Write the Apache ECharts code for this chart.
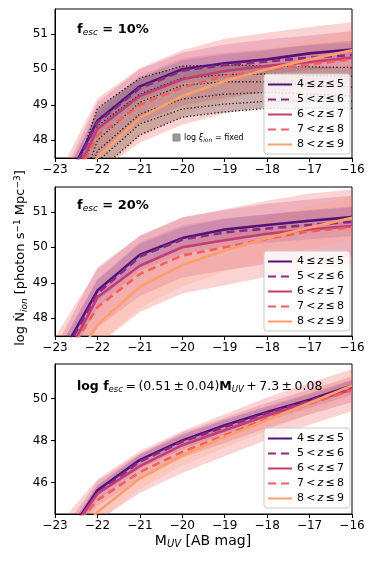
<!DOCTYPE html>
<html>
<head>
<meta charset="utf-8">
<script src="https://cdn.jsdelivr.net/npm/echarts@6/dist/echarts.min.js"></script>
<style>
html, body { margin: 0; padding: 0; background: #fff; }
#chart { width: 374px; height: 561px; }
</style>
</head>
<body>
<div id="chart"></div>
<script>
// M_UV grid of the model
const mags = [-23, -22, -21, -20, -19, -18, -17, -16];
const zBins = ['4 ≤ z ≤ 5', '5 < z ≤ 6', '6 < z ≤ 7', '7 < z ≤ 8', '8 < z ≤ 9'];
const zColors = ['#51127c', '#8c2981', '#c43c75', '#f1605d', '#fd9f6c'];
const zDashed = [false, true, false, true, false];
const bandAlpha = [0.13, 0.14, 0.22, 0.28, 0.22];

// panel 1 : fesc = 10%
const f10_z45 = [46.2, 48.55, 49.52, 50.0, 50.17, 50.28, 50.45, 50.56];
const f10_z56 = [46.1, 48.5, 49.47, 49.96, 50.12, 50.22, 50.33, 50.4];
const f10_z67 = [45.8, 48.32, 49.25, 49.72, 49.95, 50.1, 50.2, 50.33];
const f10_z78 = [45.8, 48.13, 48.99, 49.49, 49.81, 49.98, 50.14, 50.28];
const f10_z89 = [45.0, 47.53, 48.63, 49.25, 49.67, 50.0, 50.28, 50.54];
const f10_err = [0.25, 0.35, 0.75, 1.05, 0.55];
// log xi_ion fixed (dotted curves)
const fix_1 = [45.4, 48.9, 49.75, 50.09, 50.12, 50.1, 50.07, 50.05];
const fix_2 = [45.0, 48.4, 49.3, 49.75, 49.85, 49.87, 49.83, 49.8];
const fix_3 = [44.6, 48.0, 49.07, 49.55, 49.65, 49.65, 49.55, 49.5];
const fix_4 = [44.3, 47.7, 48.74, 49.16, 49.3, 49.35, 49.3, 49.25];
const fix_5 = [44.0, 47.4, 48.46, 48.88, 49.02, 49.1, 49.1, 49.1];
const fix_6 = [43.7, 47.1, 48.15, 48.65, 48.8, 48.9, 48.9, 48.9];

// panel 2 : fesc = 20%
const f20_z45 = [46.65, 48.78, 49.79, 50.26, 50.5, 50.63, 50.75, 50.85];
const f20_z56 = [46.55, 48.7, 49.74, 50.22, 50.42, 50.53, 50.63, 50.72];
const f20_z67 = [46.3, 48.59, 49.48, 50.0, 50.2, 50.38, 50.5, 50.6];
const f20_z78 = [46.4, 48.31, 49.25, 49.77, 50.0, 50.24, 50.45, 50.56];
const f20_z89 = [45.9, 47.82, 48.89, 49.5, 49.91, 50.26, 50.56, 50.83];
const f20_err = [0.3, 0.4, 0.85, 1.07, 0.6];

// panel 3 : fesc(M_UV) relation
const fm_z45 = [42.6, 45.63, 47.08, 48.01, 48.73, 49.36, 49.95, 50.63];
const fm_z56 = [42.5, 45.5, 47.0, 47.95, 48.65, 49.3, 49.9, 50.55];
const fm_z67 = [42.6, 45.47, 46.78, 47.78, 48.49, 49.2, 49.84, 50.43];
const fm_z78 = [42.8, 45.16, 46.5, 47.46, 48.25, 49.05, 49.76, 50.4];
const fm_z89 = [42.2, 44.6, 46.19, 47.3, 48.17, 48.97, 49.79, 50.63];
const fm_err = [0.25, 0.35, 0.6, 1.0, 0.5];

const yTicks12 = [48, 49, 50, 51];
const yTicks3 = [46, 48, 50];

const FONT = 'DejaVu Sans';
const chart = echarts.init(document.getElementById('chart'));

const pts = arr => mags.map((m, i) => [m, arr[i]]);

// Sutherland-Hodgman against one horizontal edge
function clipEdge(poly, keep, yb) {
  const out = [];
  const cross = (a, b) => [a[0] + (b[0] - a[0]) * (yb - a[1]) / (b[1] - a[1]), yb];
  for (let i = 0; i < poly.length; i++) {
    const cur = poly[i], prev = poly[(i + poly.length - 1) % poly.length];
    if (keep(cur)) {
      if (!keep(prev)) out.push(cross(prev, cur));
      out.push(cur);
    } else if (keep(prev)) {
      out.push(cross(prev, cur));
    }
  }
  return out;
}

// filled polygon between lo and hi, built in data space
function band(lo, hi, color, opacity, gi) {
  return {
    type: 'custom', xAxisIndex: gi, yAxisIndex: gi, silent: true, z: 2,
    data: mags.map((m, i) => [m, lo[i], hi[i]]),
    encode: { x: 0, y: [1, 2] },
    renderItem: (params, api) => {
      if (params.dataIndex !== 0) return;
      const cs = params.coordSys;
      const top = mags.map((m, i) => api.coord([m, hi[i]]));
      const bot = mags.map((m, i) => api.coord([m, lo[i]])).reverse();
      let poly = top.concat(bot);
      poly = clipEdge(poly, p => p[1] <= cs.y + cs.height, cs.y + cs.height);
      poly = clipEdge(poly, p => p[1] >= cs.y, cs.y);
      return {
        type: 'polygon',
        shape: { points: poly },
        style: { fill: color, opacity }
      };
    }
  };
}

function panel(lines, err, gi) {
  // widest bands first
  return [3, 2, 4, 1, 0].map(k =>
    band(lines[k].map(v => v - err[k]), lines[k].map(v => v + err[k]), zColors[k], bandAlpha[k], gi));
}

function curves(lines, gi) {
  return lines.map((arr, k) => ({
    name: zBins[k], type: 'line', xAxisIndex: gi, yAxisIndex: gi, data: pts(arr),
    symbol: 'none', z: 5,
    itemStyle: { color: zColors[k] },
    lineStyle: { color: zColors[k], width: 2.6, type: zDashed[k] ? [8, 5] : 'solid' }
  }));
}

const p1 = [f10_z45, f10_z56, f10_z67, f10_z78, f10_z89];
const p2 = [f20_z45, f20_z56, f20_z67, f20_z78, f20_z89];
const p3 = [fm_z45, fm_z56, fm_z67, fm_z78, fm_z89];

const series = [];
series.push(...panel(p1, f10_err, 0));
series.push(band(fix_6, fix_1, '#4a4a4a', 0.26, 0));
[fix_1, fix_2, fix_3, fix_4, fix_5, fix_6].forEach(arr => {
  series.push({ type: 'line', xAxisIndex: 0, yAxisIndex: 0, data: pts(arr), symbol: 'none', silent: true,
    z: 4, lineStyle: { color: '#111', width: 1.3, type: [1.3, 2.2] } });
});
series.push(...curves(p1, 0));
series.push(...panel(p2, f20_err, 1));
series.push(...curves(p2, 1));
series.push(...panel(p3, fm_err, 2));
series.push(...curves(p3, 2));

const grids = [
  { left: 55, top: 9, width: 297, height: 149 },
  { left: 55, top: 187, width: 297, height: 149 },
  { left: 55, top: 364, width: 297, height: 150 }
].map(g => Object.assign(g, { show: true, borderColor: '#000', borderWidth: 1, backgroundColor: 'transparent' }));

const axisText = { color: '#000', fontFamily: FONT, fontSize: 12 };

const xAxes = [0, 1, 2].map(gi => ({
  type: 'value', gridIndex: gi, min: -23, max: -16, interval: 1,
  axisLine: { show: true, lineStyle: { color: '#000', width: 1 } },
  axisTick: { show: true, length: 4, lineStyle: { color: '#000' } },
  splitLine: { show: false },
  axisLabel: Object.assign({ margin: 6, formatter: v => (v < 0 ? '\u2212' + Math.abs(v) : String(v)) }, axisText)
}));

const yAxes = [
  { min: 47.5, max: 51.7, ticks: yTicks12 },
  { min: 47.5, max: 51.7, ticks: yTicks12 },
  { min: 44.5, max: 51.65, ticks: yTicks3 }
].map((a, gi) => ({
  type: 'value', gridIndex: gi, min: a.min, max: a.max,
  axisLine: { show: true, lineStyle: { color: '#000', width: 1 } },
  axisTick: { show: true, length: 4, customValues: a.ticks, lineStyle: { color: '#000' } },
  splitLine: { show: false },
  axisLabel: Object.assign({ margin: 7, customValues: a.ticks }, axisText)
}));

const legendRich = {
  a: { fontFamily: FONT, fontSize: 11, color: '#000' },
  i: { fontFamily: FONT, fontSize: 11, fontStyle: 'italic', color: '#000' }
};
const legends = [74, 251, 428].map(top => ({
  data: zBins, orient: 'vertical', left: 264, top, z: 20,
  itemWidth: 24, itemHeight: 10, itemGap: 2,
  padding: [4, 6, 3, 3],
  backgroundColor: 'rgba(255,255,255,0.82)', borderColor: '#ccc', borderWidth: 1, borderRadius: 3,
  selectedMode: false,
  itemStyle: { opacity: 0 },
  textStyle: { lineHeight: 13, rich: legendRich },
  formatter: n => {
    const parts = n.split(' ');
    return '{a|' + parts[0] + '\u2009' + parts[1] + '\u2009}{i|z}{a|\u2009' + parts[3] + '\u2009' + parts[4] + '}';
  }
}));

const annRich = {
  b: { fontFamily: FONT, fontSize: 13, fontWeight: 'bold', color: '#000' },
  s: { fontFamily: FONT, fontSize: 9, fontStyle: 'italic', color: '#000', padding: [6, 0, 0, 0] }
};
const fitRich = {
  b: { fontFamily: FONT, fontSize: 12.5, fontWeight: 'bold', color: '#000' },
  n: { fontFamily: FONT, fontSize: 12.5, color: '#000' },
  s: { fontFamily: FONT, fontSize: 8.5, fontStyle: 'italic', color: '#000', padding: [6, 0, 0, 0] }
};

const graphic = [
  { type: 'text', left: 77, top: 23, z: 10,
    style: { text: '{b|f}{s|esc}{b| = 10%}', rich: annRich } },
  { type: 'text', left: 77, top: 199, z: 10,
    style: { text: '{b|f}{s|esc}{b| = 20%}', rich: annRich } },
  { type: 'text', left: 77, top: 380, z: 10,
    style: { text: '{b|log f}{s|esc}{n|\u2009=\u2009(0.51\u2009±\u20090.04)}{b|M}{s|UV}{n|\u2009+\u20097.3\u2009±\u20090.08}', rich: fitRich } },
  { type: 'rect', shape: { x: 173, y: 134, width: 7, height: 7 }, z: 10,
    style: { fill: '#999', stroke: '#888' } },
  { type: 'text', x: 184, y: 138, z: 10,
    style: {
      text: '{n|log }{i|ξ}{s|ion}{n| = fixed}', verticalAlign: 'middle',
      rich: {
        n: { fontFamily: FONT, fontSize: 8, color: '#333' },
        i: { fontFamily: FONT, fontSize: 8, fontStyle: 'italic', color: '#333' },
        s: { fontFamily: FONT, fontSize: 6, fontStyle: 'italic', color: '#333', padding: [4, 0, 0, 0] }
      }
    } },
  { type: 'text', x: 21, y: 258, rotation: Math.PI / 2, z: 10,
    style: {
      text: '{n|log }{n|Ṅ}{s|ion}{n| [photon s}{p|−1}{n| Mpc}{p|−3}{n|]}',
      align: 'center', verticalAlign: 'middle',
      rich: {
        n: { fontFamily: FONT, fontSize: 13, color: '#000' },
        s: { fontFamily: FONT, fontSize: 9, fontStyle: 'italic', color: '#000', padding: [7, 0, 0, 0] },
        p: { fontFamily: FONT, fontSize: 9, color: '#000', padding: [0, 0, 7, 0] }
      }
    } },
  { type: 'text', x: 203, y: 541, z: 10,
    style: {
      text: '{n|M}{s|UV}{n| [AB mag]}', align: 'center', verticalAlign: 'middle',
      rich: {
        n: { fontFamily: FONT, fontSize: 14, color: '#000' },
        s: { fontFamily: FONT, fontSize: 10, fontStyle: 'italic', color: '#000', padding: [7, 0, 0, 0] }
      }
    } }
];

chart.setOption({
  backgroundColor: '#fff',
  animation: false,
  grid: grids,
  xAxis: xAxes,
  yAxis: yAxes,
  legend: legends,
  graphic,
  series
});
</script>
</body>
</html>
